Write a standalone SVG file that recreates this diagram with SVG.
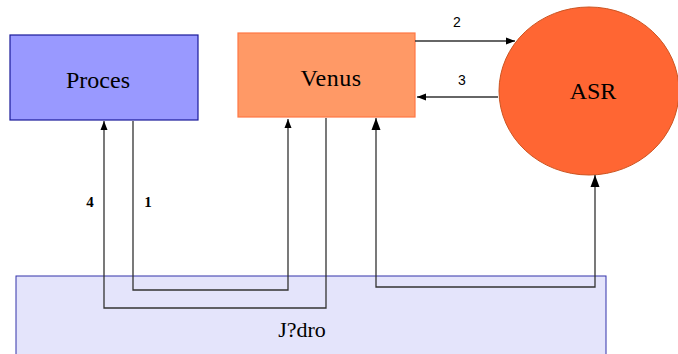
<svg xmlns="http://www.w3.org/2000/svg" width="678" height="354" viewBox="0 0 678 354">
  <defs>
    <marker id="arr" markerWidth="10" markerHeight="10" refX="9" refY="5" orient="auto-start-reverse" markerUnits="userSpaceOnUse">
      <path d="M0,1.5 L9,5 L0,8.5 Z" fill="#000"/>
    </marker>
    <marker id="arrBig" markerWidth="14" markerHeight="14" refX="12" refY="7" orient="auto-start-reverse" markerUnits="userSpaceOnUse">
      <path d="M0,2.5 L12,7 L0,11.5 Z" fill="#000"/>
    </marker>
  </defs>
  <style>
    .num { fill: #000; text-anchor: middle; }
    .conn { fill: none; stroke: #333; stroke-width: 1.3; }
  </style>
  <rect width="678" height="354" fill="#fff"/>

  <g id="jadro">
    <rect x="16" y="276" width="590" height="90" fill="#e4e4fb" stroke="#3333aa" stroke-width="1"/>
    <text x="302" y="337" font-family="'Liberation Serif', 'DejaVu Serif', serif" font-size="22" text-anchor="middle">J?dro</text>
  </g>

  <g id="proces">
    <rect x="10" y="35" width="188" height="85" fill="#9999ff" stroke="#1a1a99" stroke-width="1.2"/>
    <text x="98" y="88" font-family="'Liberation Serif', 'DejaVu Serif', serif" font-size="24" text-anchor="middle">Proces</text>
  </g>

  <g id="venus">
    <rect x="238" y="33" width="177" height="84" fill="#ff9966" stroke="#ff7744" stroke-width="1.2"/>
    <text x="331" y="86" font-family="'Liberation Serif', 'DejaVu Serif', serif" font-size="24" letter-spacing="0.5" text-anchor="middle">Venus</text>
  </g>

  <g id="asr">
    <ellipse cx="589" cy="91" rx="90" ry="84" fill="#ff6633" stroke="#cc5522" stroke-width="1"/>
    <text x="593" y="99" font-family="'Liberation Serif', 'DejaVu Serif', serif" font-size="24" text-anchor="middle">ASR</text>
  </g>

  <g id="connectors">
    <!-- 1: Proces -> Venus through the kernel -->
    <polyline class="conn" points="133,121 133,290 288,290 288,119" marker-end="url(#arr)"/>
    <!-- 4: Venus -> Proces through the kernel -->
    <polyline class="conn" points="326,118 326,308 104,308 104,121" marker-end="url(#arr)"/>
    <!-- kernel link between Venus and ASR, arrows at both ends -->
    <polyline class="conn" points="595,175 595,287 376,287 376,118" marker-start="url(#arrBig)" marker-end="url(#arrBig)"/>
    <!-- 2: Venus -> ASR -->
    <line class="conn" x1="415" y1="41" x2="515" y2="41" marker-end="url(#arr)"/>
    <!-- 3: ASR -> Venus -->
    <line class="conn" x1="498" y1="97" x2="417" y2="97" marker-end="url(#arr)"/>
    <text class="num" x="457" y="27" font-family="'Liberation Sans', Arial, sans-serif" font-size="14">2</text>
    <text class="num" x="462" y="85" font-family="'Liberation Sans', Arial, sans-serif" font-size="14">3</text>
    <text class="num" x="90" y="207" font-family="'Liberation Serif', serif" font-weight="bold" font-size="15">4</text>
    <text class="num" x="148" y="207" font-family="'Liberation Serif', serif" font-weight="bold" font-size="15">1</text>
  </g>
</svg>
